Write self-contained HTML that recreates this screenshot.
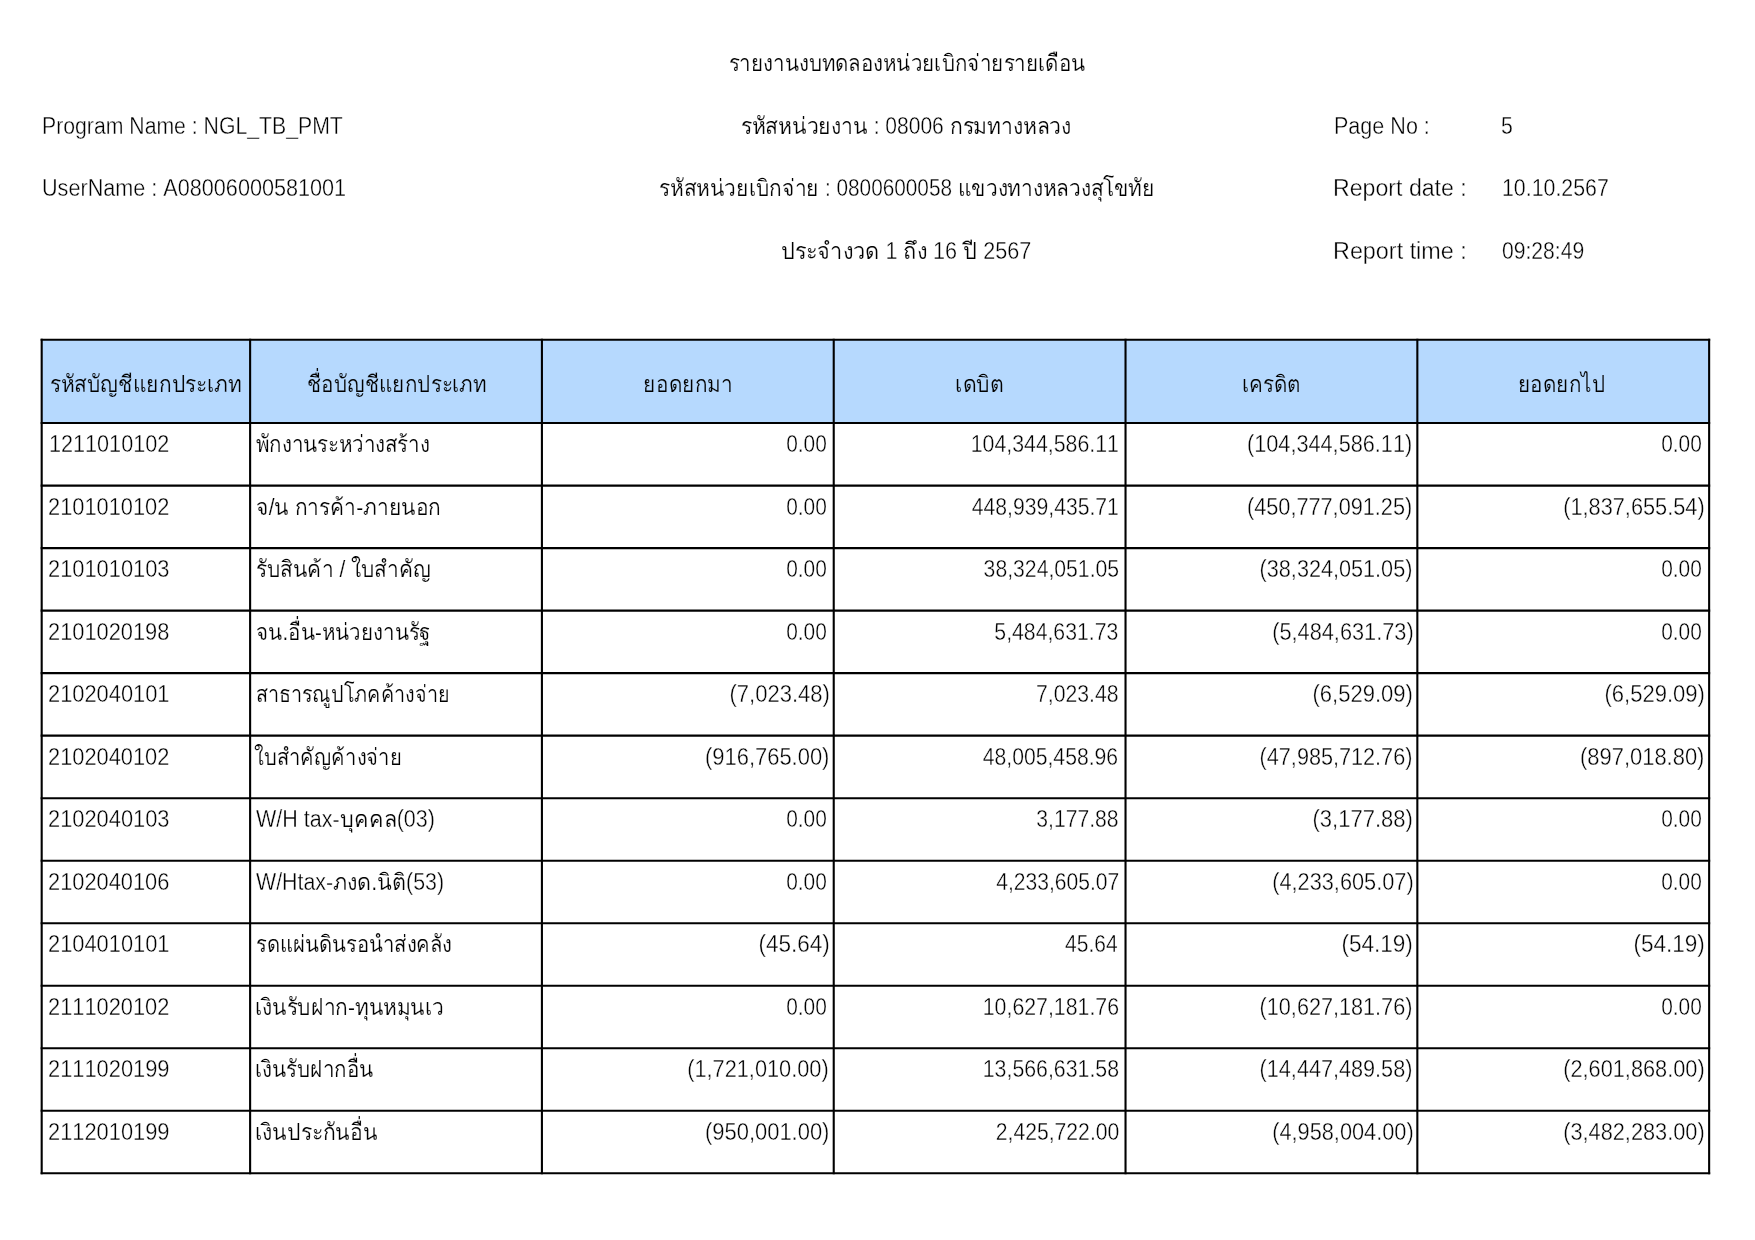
<!DOCTYPE html>
<html lang="th">
<head>
<meta charset="utf-8">
<title>รายงานงบทดลองหน่วยเบิกจ่ายรายเดือน</title>
<style>
html,body{margin:0;padding:0;background:#fff}
body{width:1755px;height:1240px;position:relative;overflow:hidden;font-family:"Liberation Sans",sans-serif;color:#000;font-kerning:none;will-change:transform;-webkit-text-stroke:0.35px #fff}
.g{position:absolute;left:0;top:0}
.t{position:absolute;height:30px;line-height:30px;white-space:nowrap;font-size:23px}
.th{font-size:23.2px;-webkit-text-stroke-width:0.2px}

.a{font-size:23px;-webkit-text-stroke-width:0.35px}
.h{-webkit-text-stroke-color:#b6d9fe}
.l{transform-origin:0 50%}
.r{transform-origin:100% 50%;text-align:right}
.c{transform-origin:50% 50%;text-align:center}
</style>
</head>
<body>
<svg class="g" width="1755" height="1240" viewBox="0 0 1755 1240">
<rect x="41.69" y="339.70" width="1667.46" height="83.36" fill="#b6d9fe"/>
<g stroke="#000" stroke-width="2.10" stroke-linecap="square" fill="none">
<line x1="41.69" y1="339.70" x2="1709.14" y2="339.70"/>
<line x1="41.69" y1="423.06" x2="1709.14" y2="423.06"/>
<line x1="41.69" y1="485.58" x2="1709.14" y2="485.58"/>
<line x1="41.69" y1="548.10" x2="1709.14" y2="548.10"/>
<line x1="41.69" y1="610.62" x2="1709.14" y2="610.62"/>
<line x1="41.69" y1="673.14" x2="1709.14" y2="673.14"/>
<line x1="41.69" y1="735.66" x2="1709.14" y2="735.66"/>
<line x1="41.69" y1="798.18" x2="1709.14" y2="798.18"/>
<line x1="41.69" y1="860.71" x2="1709.14" y2="860.71"/>
<line x1="41.69" y1="923.23" x2="1709.14" y2="923.23"/>
<line x1="41.69" y1="985.75" x2="1709.14" y2="985.75"/>
<line x1="41.69" y1="1048.27" x2="1709.14" y2="1048.27"/>
<line x1="41.69" y1="1110.79" x2="1709.14" y2="1110.79"/>
<line x1="41.69" y1="1173.31" x2="1709.14" y2="1173.31"/>
<line x1="41.69" y1="339.70" x2="41.69" y2="1173.31"/>
<line x1="250.12" y1="339.70" x2="250.12" y2="1173.31"/>
<line x1="541.92" y1="339.70" x2="541.92" y2="1173.31"/>
<line x1="833.73" y1="339.70" x2="833.73" y2="1173.31"/>
<line x1="1125.53" y1="339.70" x2="1125.53" y2="1173.31"/>
<line x1="1417.34" y1="339.70" x2="1417.34" y2="1173.31"/>
<line x1="1709.14" y1="339.70" x2="1709.14" y2="1173.31"/>
</g></svg>
<div class="t c th" style="left:607.09px;top:48.00px;width:600px;transform:scaleX(0.887)">รายงานงบทดลองหน่วยเบิกจ่ายรายเดือน</div>
<div class="t c th" style="left:605.66px;top:111.00px;width:600px;transform:scaleX(0.914)">รหัสหน่วยงาน <span class="a">: 08006</span> กรมทางหลวง</div>
<div class="t c th" style="left:607.37px;top:173.00px;width:600px;transform:scaleX(0.903)">รหัสหน่วยเบิกจ่าย <span class="a">: 0800600058</span> แขวงทางหลวงสุโขทัย</div>
<div class="t c th" style="left:606.13px;top:236.00px;width:600px;transform:scaleX(0.939)">ประจำงวด <span class="a">1</span> ถึง <span class="a">16</span> ปี <span class="a">2567</span></div>
<div class="t l" style="left:41.75px;top:111.00px;transform:scaleX(0.923)">Program Name : NGL_TB_PMT</div>
<div class="t l" style="left:41.72px;top:173.00px;transform:scaleX(0.940)">UserName : A08006000581001</div>
<div class="t l" style="left:1333.73px;top:111.00px;transform:scaleX(0.937)">Page No :</div>
<div class="t l" style="left:1333.37px;top:173.00px;transform:scaleX(1.006)">Report date :</div>
<div class="t l" style="left:1333.29px;top:236.00px;transform:scaleX(1.016)">Report time :</div>
<div class="t l" style="left:1500.69px;top:111.00px;transform:scaleX(0.925)">5</div>
<div class="t l" style="left:1501.62px;top:173.00px;transform:scaleX(0.928)">10.10.2567</div>
<div class="t l" style="left:1501.67px;top:236.00px;transform:scaleX(0.918)">09:28:49</div>
<div class="t c th h" style="left:33.44px;top:369.00px;width:225.1px;transform:scaleX(0.904);overflow-x:clip">รหัสบัญชีแยกประเภท</div>
<div class="t c th h" style="left:235.53px;top:369.00px;width:321px;transform:scaleX(0.893);overflow-x:clip">ชื่อบัญชีแยกประเภท</div>
<div class="t c th h" style="left:527.57px;top:369.00px;width:319.7px;transform:scaleX(0.897);overflow-x:clip">ยอดยกมา</div>
<div class="t c th h" style="left:822.99px;top:369.00px;width:313.1px;transform:scaleX(0.916);overflow-x:clip">เดบิต</div>
<div class="t c th h" style="left:1109.85px;top:369.00px;width:322px;transform:scaleX(0.891);overflow-x:clip">เครดิต</div>
<div class="t c th h" style="left:1401.13px;top:369.00px;width:321.4px;transform:scaleX(0.892);overflow-x:clip">ยอดยกไป</div>
<div class="t l" style="left:48.59px;top:429.00px;transform:scaleX(0.940)">1211010102</div>
<div class="t l th" style="left:256.36px;top:429.00px;transform:scaleX(0.889);width:318.2px;overflow-x:clip">พักงานระหว่างสร้าง</div>
<div class="t r" style="right:928.26px;top:429.00px;transform:scaleX(0.907)">0.00</div>
<div class="t r" style="right:636.34px;top:429.00px;transform:scaleX(0.927)">104,344,586.11</div>
<div class="t r" style="right:342.32px;top:429.00px;transform:scaleX(0.943)">(104,344,586.11)</div>
<div class="t r" style="right:53.19px;top:429.00px;transform:scaleX(0.907)">0.00</div>
<div class="t l" style="left:48.20px;top:492.00px;transform:scaleX(0.949)">2101010102</div>
<div class="t l th" style="left:255.77px;top:492.00px;transform:scaleX(0.904);width:313.8px;overflow-x:clip">จ/น การค้า-ภายนอก</div>
<div class="t r" style="right:928.26px;top:492.00px;transform:scaleX(0.907)">0.00</div>
<div class="t r" style="right:636.38px;top:492.00px;transform:scaleX(0.920)">448,939,435.71</div>
<div class="t r" style="right:342.32px;top:492.00px;transform:scaleX(0.943)">(450,777,091.25)</div>
<div class="t r" style="right:50.84px;top:492.00px;transform:scaleX(0.945)">(1,837,655.54)</div>
<div class="t l" style="left:48.21px;top:554.00px;transform:scaleX(0.950)">2101010103</div>
<div class="t l th" style="left:255.63px;top:554.00px;transform:scaleX(0.902);width:314.7px;overflow-x:clip">รับสินค้า / ใบสำคัญ</div>
<div class="t r" style="right:928.26px;top:554.00px;transform:scaleX(0.907)">0.00</div>
<div class="t r" style="right:636.27px;top:554.00px;transform:scaleX(0.921)">38,324,051.05</div>
<div class="t r" style="right:342.89px;top:554.00px;transform:scaleX(0.941)">(38,324,051.05)</div>
<div class="t r" style="right:53.19px;top:554.00px;transform:scaleX(0.907)">0.00</div>
<div class="t l" style="left:48.21px;top:617.00px;transform:scaleX(0.949)">2101020198</div>
<div class="t l th" style="left:255.86px;top:617.00px;transform:scaleX(0.887);width:319.6px;overflow-x:clip">จน.อื่น-หน่วยงานรัฐ</div>
<div class="t r" style="right:928.26px;top:617.00px;transform:scaleX(0.907)">0.00</div>
<div class="t r" style="right:636.23px;top:617.00px;transform:scaleX(0.923)">5,484,631.73</div>
<div class="t r" style="right:341.87px;top:617.00px;transform:scaleX(0.945)">(5,484,631.73)</div>
<div class="t r" style="right:53.19px;top:617.00px;transform:scaleX(0.907)">0.00</div>
<div class="t l" style="left:48.20px;top:679.00px;transform:scaleX(0.950)">2102040101</div>
<div class="t l th" style="left:255.83px;top:679.00px;transform:scaleX(0.853);width:332.6px;overflow-x:clip">สาธารณูปโภคค้างจ่าย</div>
<div class="t r" style="right:925.63px;top:679.00px;transform:scaleX(0.957)">(7,023.48)</div>
<div class="t r" style="right:636.98px;top:679.00px;transform:scaleX(0.922)">7,023.48</div>
<div class="t r" style="right:342.58px;top:679.00px;transform:scaleX(0.957)">(6,529.09)</div>
<div class="t r" style="right:50.55px;top:679.00px;transform:scaleX(0.957)">(6,529.09)</div>
<div class="t l" style="left:48.20px;top:742.00px;transform:scaleX(0.949)">2102040102</div>
<div class="t l th" style="left:254.11px;top:742.00px;transform:scaleX(0.870);width:327.8px;overflow-x:clip">ใบสำคัญค้างจ่าย</div>
<div class="t r" style="right:925.70px;top:742.00px;transform:scaleX(0.954)">(916,765.00)</div>
<div class="t r" style="right:637.07px;top:742.00px;transform:scaleX(0.920)">48,005,458.96</div>
<div class="t r" style="right:342.89px;top:742.00px;transform:scaleX(0.941)">(47,985,712.76)</div>
<div class="t r" style="right:50.62px;top:742.00px;transform:scaleX(0.954)">(897,018.80)</div>
<div class="t l" style="left:48.21px;top:804.00px;transform:scaleX(0.950)">2102040103</div>
<div class="t l th" style="left:256.29px;top:804.00px;transform:scaleX(0.935);width:302.7px;overflow-x:clip"><span class="a">W/H tax-</span>บุคคล<span class="a">(03)</span></div>
<div class="t r" style="right:928.26px;top:804.00px;transform:scaleX(0.907)">0.00</div>
<div class="t r" style="right:636.63px;top:804.00px;transform:scaleX(0.918)">3,177.88</div>
<div class="t r" style="right:342.58px;top:804.00px;transform:scaleX(0.957)">(3,177.88)</div>
<div class="t r" style="right:53.19px;top:804.00px;transform:scaleX(0.907)">0.00</div>
<div class="t l" style="left:48.21px;top:867.00px;transform:scaleX(0.949)">2102040106</div>
<div class="t l th" style="left:256.29px;top:867.00px;transform:scaleX(0.929);width:304.8px;overflow-x:clip"><span class="a">W/Htax-</span>ภงด.นิติ<span class="a">(53)</span></div>
<div class="t r" style="right:928.26px;top:867.00px;transform:scaleX(0.907)">0.00</div>
<div class="t r" style="right:636.21px;top:867.00px;transform:scaleX(0.916)">4,233,605.07</div>
<div class="t r" style="right:341.87px;top:867.00px;transform:scaleX(0.945)">(4,233,605.07)</div>
<div class="t r" style="right:53.19px;top:867.00px;transform:scaleX(0.907)">0.00</div>
<div class="t l" style="left:48.20px;top:929.00px;transform:scaleX(0.950)">2104010101</div>
<div class="t l th" style="left:255.73px;top:929.00px;transform:scaleX(0.875);width:324.2px;overflow-x:clip">รดแผ่นดินรอนำส่งคลัง</div>
<div class="t r" style="right:925.60px;top:929.00px;transform:scaleX(0.980)">(45.64)</div>
<div class="t r" style="right:637.11px;top:929.00px;transform:scaleX(0.912)">45.64</div>
<div class="t r" style="right:342.54px;top:929.00px;transform:scaleX(0.980)">(54.19)</div>
<div class="t r" style="right:50.52px;top:929.00px;transform:scaleX(0.980)">(54.19)</div>
<div class="t l" style="left:48.20px;top:992.00px;transform:scaleX(0.949)">2111020102</div>
<div class="t l th" style="left:254.79px;top:992.00px;transform:scaleX(0.904);width:314.9px;overflow-x:clip">เงินรับฝาก-ทุนหมุนเว</div>
<div class="t r" style="right:928.26px;top:992.00px;transform:scaleX(0.907)">0.00</div>
<div class="t r" style="right:636.30px;top:992.00px;transform:scaleX(0.927)">10,627,181.76</div>
<div class="t r" style="right:342.89px;top:992.00px;transform:scaleX(0.941)">(10,627,181.76)</div>
<div class="t r" style="right:53.19px;top:992.00px;transform:scaleX(0.907)">0.00</div>
<div class="t l" style="left:48.21px;top:1054.00px;transform:scaleX(0.950)">2111020199</div>
<div class="t l th" style="left:254.82px;top:1054.00px;transform:scaleX(0.889);width:320.0px;overflow-x:clip">เงินรับฝากอื่น</div>
<div class="t r" style="right:925.92px;top:1054.00px;transform:scaleX(0.945)">(1,721,010.00)</div>
<div class="t r" style="right:636.32px;top:1054.00px;transform:scaleX(0.927)">13,566,631.58</div>
<div class="t r" style="right:342.89px;top:1054.00px;transform:scaleX(0.941)">(14,447,489.58)</div>
<div class="t r" style="right:50.84px;top:1054.00px;transform:scaleX(0.945)">(2,601,868.00)</div>
<div class="t l" style="left:48.21px;top:1117.00px;transform:scaleX(0.950)">2112010199</div>
<div class="t l th" style="left:254.77px;top:1117.00px;transform:scaleX(0.914);width:311.5px;overflow-x:clip">เงินประกันอื่น</div>
<div class="t r" style="right:925.70px;top:1117.00px;transform:scaleX(0.954)">(950,001.00)</div>
<div class="t r" style="right:636.15px;top:1117.00px;transform:scaleX(0.920)">2,425,722.00</div>
<div class="t r" style="right:341.87px;top:1117.00px;transform:scaleX(0.945)">(4,958,004.00)</div>
<div class="t r" style="right:50.84px;top:1117.00px;transform:scaleX(0.945)">(3,482,283.00)</div>
</body>
</html>
